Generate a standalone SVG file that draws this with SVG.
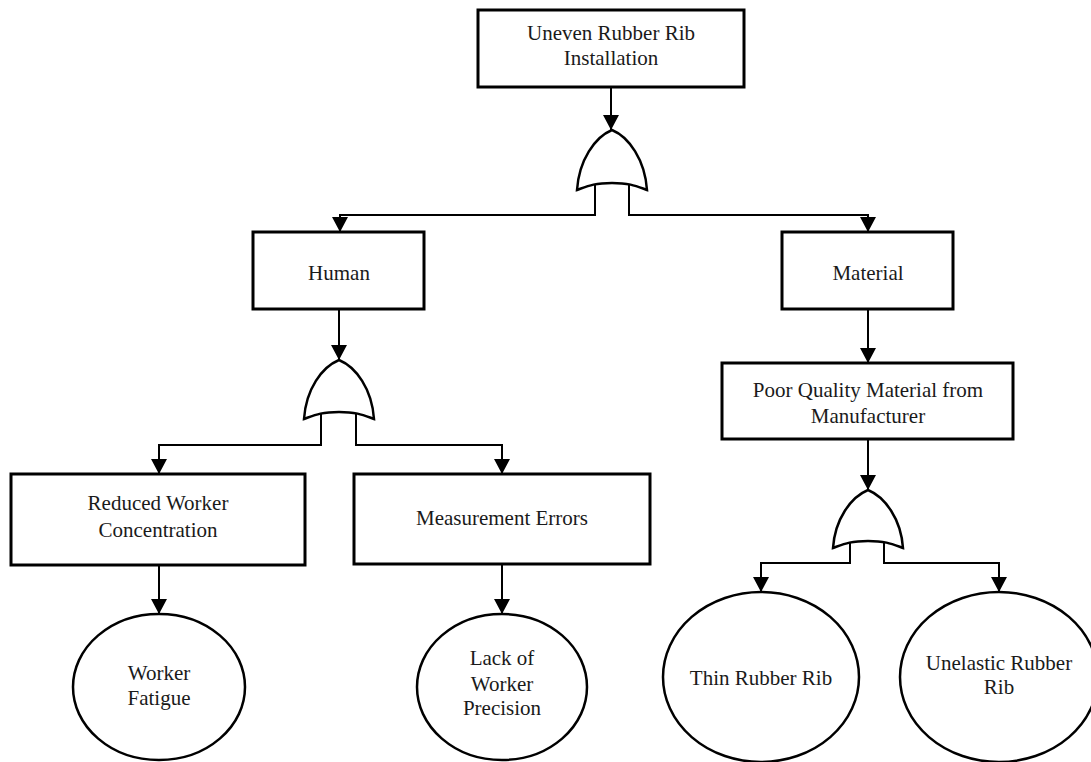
<svg xmlns="http://www.w3.org/2000/svg" width="1091" height="762" viewBox="0 0 1091 762">
  <style>
    .box { fill: #ffffff; stroke: #000000; stroke-width: 3; }
    .event { fill: #ffffff; stroke: #000000; stroke-width: 2.5; }
    .gate { fill: #ffffff; stroke: #000000; stroke-width: 2.5; stroke-linejoin: miter; }
    .link { fill: none; stroke: #000000; stroke-width: 2; }
    text { font-family: 'Liberation Serif', 'DejaVu Serif', 'Times New Roman', serif; font-size: 21px; fill: #1a1a1a; text-anchor: middle; }
  </style>
  <defs>
    <marker id="arrow" markerUnits="userSpaceOnUse" markerWidth="18" markerHeight="16" refX="15" refY="8" orient="auto">
      <path d="M0,0 L15,8 L0,16 Z" fill="#000000"/>
    </marker>
  </defs>
  <rect width="1091" height="762" fill="#ffffff"/>

  <!-- connectors -->
  <g id="connectors">
    <path class="link" d="M611,87 V130" marker-end="url(#arrow)"/>
    <path class="link" d="M595,184 V215 H340 V232" marker-end="url(#arrow)"/>
    <path class="link" d="M629,184 V215 H868 V232" marker-end="url(#arrow)"/>
    <path class="link" d="M339,309 V360" marker-end="url(#arrow)"/>
    <path class="link" d="M321,414 V445 H159 V474" marker-end="url(#arrow)"/>
    <path class="link" d="M356,414 V445 H502 V474" marker-end="url(#arrow)"/>
    <path class="link" d="M159,565 V614" marker-end="url(#arrow)"/>
    <path class="link" d="M502,564 V614" marker-end="url(#arrow)"/>
    <path class="link" d="M868,309 V363" marker-end="url(#arrow)"/>
    <path class="link" d="M868,439 V490" marker-end="url(#arrow)"/>
    <path class="link" d="M850,543 V563 H761 V592" marker-end="url(#arrow)"/>
    <path class="link" d="M884,543 V563 H999 V592" marker-end="url(#arrow)"/>
  </g>

  <!-- OR gates -->
  <g id="gate-top">
    <path class="gate" d="M577,190 C579,160 595,137 612,130 C629,137 645,160 647,190 C636,186 630,183 612,183 C594,183 588,186 577,190 Z"/>
  </g>
  <g id="gate-human">
    <path class="gate" d="M304,419 C306,389 322,367 339,360 C356,367 372,389 374,419 C363,415 357,412 339,412 C321,412 315,415 304,419 Z"/>
  </g>
  <g id="gate-material">
    <path class="gate" d="M833,548 C835,519 851,497 868,490 C885,497 901,519 903,548 C892,544 886,541 868,541 C850,541 844,544 833,548 Z"/>
  </g>

  <!-- top event -->
  <g id="node-top">
    <rect class="box" x="478" y="10" width="266" height="77"/>
    <text x="611" y="40">Uneven Rubber Rib</text>
    <text x="611" y="65">Installation</text>
  </g>

  <g id="node-human">
    <rect class="box" x="253" y="232" width="171" height="77"/>
    <text x="339" y="280">Human</text>
  </g>

  <g id="node-material">
    <rect class="box" x="782" y="232" width="171" height="77"/>
    <text x="868" y="280">Material</text>
  </g>

  <g id="node-poor-quality">
    <rect class="box" x="722" y="363" width="291" height="76"/>
    <text x="868" y="397">Poor Quality Material from</text>
    <text x="868" y="423">Manufacturer</text>
  </g>

  <g id="node-reduced-concentration">
    <rect class="box" x="11" y="474" width="294" height="91"/>
    <text x="158" y="510">Reduced Worker</text>
    <text x="158" y="537">Concentration</text>
  </g>

  <g id="node-measurement-errors">
    <rect class="box" x="354" y="474" width="296" height="90"/>
    <text x="502" y="525">Measurement Errors</text>
  </g>

  <!-- basic events -->
  <g id="node-worker-fatigue">
    <ellipse class="event" cx="159" cy="687" rx="86" ry="73"/>
    <text x="159" y="680">Worker</text>
    <text x="159" y="705">Fatigue</text>
  </g>

  <g id="node-lack-precision">
    <ellipse class="event" cx="502" cy="687" rx="85" ry="73"/>
    <text x="502" y="665">Lack of</text>
    <text x="502" y="691">Worker</text>
    <text x="502" y="715">Precision</text>
  </g>

  <g id="node-thin-rib">
    <ellipse class="event" cx="761" cy="677" rx="98" ry="85"/>
    <text x="761" y="685">Thin Rubber Rib</text>
  </g>

  <g id="node-unelastic-rib">
    <ellipse class="event" cx="999" cy="677" rx="99" ry="85"/>
    <text x="999" y="670">Unelastic Rubber</text>
    <text x="999" y="694">Rib</text>
  </g>
</svg>
